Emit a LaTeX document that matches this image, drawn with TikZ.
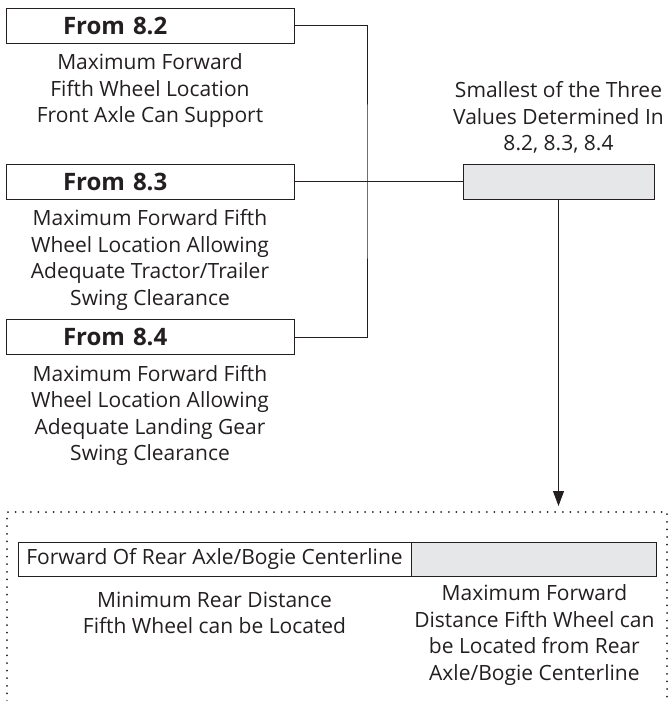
\documentclass[tikz,border=0pt]{standalone}
\usepackage{fontspec}
\setmainfont{Open Sans}
\usetikzlibrary{positioning,arrows.meta}
\definecolor{inkgray}{HTML}{231F20}
\definecolor{boxgray}{HTML}{E6E7E8}

\begin{document}
\begin{tikzpicture}[
    x=1pt, y=-1pt,
    every node/.style={text=inkgray},
    txt/.style={align=center, inner sep=0pt, font=\fontsize{21}{26.5}\selectfont},
    hdrbox/.style={draw=inkgray, line width=0.9pt, text width=174pt, inner xsep=57pt, inner ysep=0pt, minimum height=35pt, align=left, font=\bfseries\fontsize{24}{28}\selectfont},
    minbox/.style={draw=inkgray, line width=0.9pt, fill=boxgray, minimum width=191pt, minimum height=35pt},
    barcell/.style={draw=inkgray, line width=0.9pt, minimum height=34pt, inner sep=0pt, font=\fontsize{21}{26}\selectfont},
    link/.style={draw=inkgray, line width=0.8pt},
    dotbox/.style={draw=inkgray, line width=2pt, line cap=round, dash pattern=on 0pt off 7.6pt}
]
\useasboundingbox (0,0) rectangle (668,701);
\node[hdrbox] (from82) at (150,25.5) {From 8.2};
\node[txt, below=10pt of from82] (desc82) {Maximum Forward\\Fifth Wheel Location\\Front Axle Can Support};
\node[hdrbox] (from83) at (150,181.5) {From 8.3};
\node[txt, below=10pt of from83] (desc83) {Maximum Forward Fifth\\Wheel Location Allowing\\Adequate Tractor/Trailer\\Swing Clearance};
\node[hdrbox] (from84) at (150,337) {From 8.4};
\node[txt, below=10pt of from84] (desc84) {Maximum Forward Fifth\\Wheel Location Allowing\\Adequate Landing Gear\\Swing Clearance};
\node[minbox] (smallest) at (558.5,181.5) {};
\node[txt, above=10pt of smallest] (smalltxt) {Smallest of the Three\\Values Determined In\\8.2, 8.3, 8.4};
\node[barcell, minimum width=393pt] (fwdcell) at (214.5,559) {Forward Of Rear Axle/Bogie Centerline};
\node[barcell, minimum width=245pt, fill=boxgray, right=0pt of fwdcell] (graycell) {};
\node[txt, below=15pt of fwdcell] (mintxt) {Minimum Rear Distance\\Fifth Wheel can be Located};
\node[txt, below=8pt of graycell] (maxtxt) {Maximum Forward\\Distance Fifth Wheel can\\be Located from Rear\\Axle/Bogie Centerline};
\coordinate (jn) at (367,181.5);
\coordinate (droptip) at (558.5,506);
\draw[link] (from82.east) -| (jn) |- (from84.east);
\draw[link] (from83.east) -- (smallest.west);
\draw[link, -{Triangle[length=15pt, width=11pt]}] (smallest.south) -- (droptip);
\draw[dotbox] (7,701) |- (667,512) -- (667,701);
\end{tikzpicture}
\end{document}
